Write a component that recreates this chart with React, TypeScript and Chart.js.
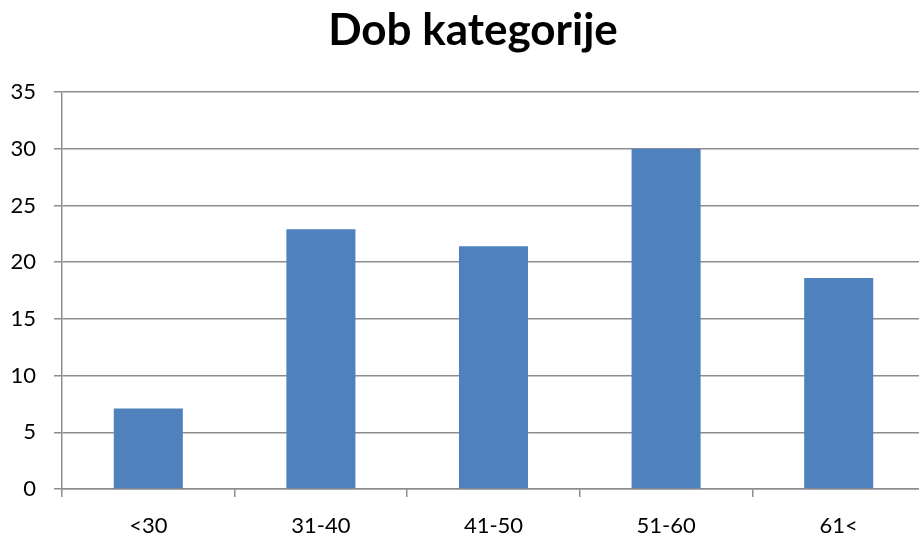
import React, { useEffect, useRef } from "react";
import { Chart, registerables } from "chart.js";

Chart.register(...registerables);

const categories = ["<30", "31-40", "41-50", "51-60", "61<"];
const values = [7.1, 22.9, 21.4, 30.0, 18.6];
const yMin = 0;
const yMax = 35;
const yStep = 5;
const titleText = "Dob kategorije";

const GRID = "#8d8d8d";
const BAR = "#4F81BD";
const FONT = "Lato, 'Open Sans', sans-serif";

export default function App() {
  const ref = useRef<HTMLCanvasElement | null>(null);

  useEffect(() => {
    if (!ref.current) return;
    const chart = new Chart(ref.current, {
      type: "bar",
      data: {
        labels: categories,
        datasets: [
          {
            data: values,
            backgroundColor: BAR,
            borderWidth: 0,
            barPercentage: 0.4,
            categoryPercentage: 1,
            yAxisID: "y",
          },
        ],
      },
      options: {
        animation: false,
        responsive: false,
        devicePixelRatio: 1,
        layout: { padding: { left: 0, right: 0, top: 0, bottom: 0 } },
        plugins: {
          legend: { display: false },
          tooltip: { enabled: false },
          title: {
            display: true,
            text: titleText,
            color: "#000",
            font: { family: FONT, size: 44, weight: "bold", lineHeight: 1.2 },
            padding: { top: 4, bottom: 35.2 },
          },
        },
        scales: {
          x: {
            offset: true,
            grid: {
              offset: true,
              drawOnChartArea: false,
              drawTicks: true,
              tickLength: 8,
              color: GRID,
              lineWidth: 1.5,
            },
            border: { display: true, color: GRID, width: 1.5 },
            ticks: {
              color: "#000",
              font: { family: FONT, size: 22 },
              padding: 16,
              maxRotation: 0,
              autoSkip: false,
            },
            afterFit: (s: any) => {
              s.height = 44;
            },
          },
          y: {
            min: yMin,
            max: yMax,
            ticks: {
              stepSize: yStep,
              color: "#000",
              font: { family: FONT, size: 22 },
              padding: 18,
            },
            grid: {
              color: GRID,
              lineWidth: 1.5,
              tickLength: 8,
              drawTicks: true,
            },
            border: { display: true, color: GRID, width: 1.5 },
            afterFit: (s: any) => {
              s.width = 62;
            },
          },
          yRight: {
            position: "right",
            display: true,
            min: yMin,
            max: yMax,
            ticks: { display: false },
            grid: { display: false, drawOnChartArea: false, drawTicks: false },
            border: { display: false },
            afterFit: (s: any) => {
              s.width = 21;
            },
          },
        },
      },
    });
    return () => chart.destroy();
  }, []);

  return (
    <div
      style={{
        position: "fixed",
        left: 0,
        top: 0,
        width: 919,
        height: 533,
        overflow: "hidden",
        background: "#fff",
      }}
    >
      <canvas ref={ref} width={946} height={533} style={{ width: 946, height: 533, display: "block" }} />
    </div>
  );
}
